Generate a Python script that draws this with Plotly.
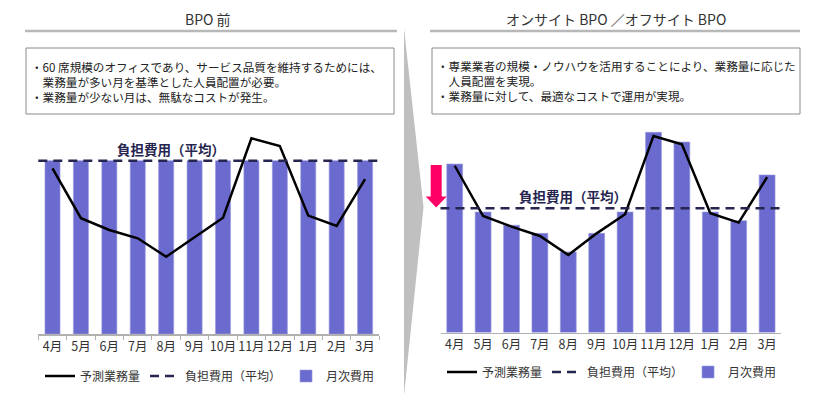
import plotly.graph_objects as go

# ---------------- data ----------------
months = ["4月", "5月", "6月", "7月", "8月", "9月", "10月", "11月", "12月", "1月", "2月", "3月"]

# 予測業務量 (forecast workload)
forecast_before = [95.6, 66.8, 60.0, 55.2, 44.6, 55.8, 67.1, 112.9, 108.5, 68.3, 62.3, 89.3]
forecast_after = [96.2, 67.2, 61.1, 55.7, 44.7, 57.2, 68.2, 113.4, 108.6, 68.8, 63.4, 89.6]

# 月次費用 (monthly cost)
cost_before = [100, 100, 100, 100, 100, 100, 100, 100, 100, 100, 100, 100]
cost_after = [97.2, 69.5, 61.9, 57.2, 46.5, 57.2, 69.5, 115.5, 109.9, 69.5, 64.5, 90.9]

# 負担費用（平均） (average cost burden)
avg_before = 100
avg_after = 71.7

titles = ["BPO 前", "オンサイト BPO ／オフサイト BPO"]
notes_before = [
    "・60 席規模のオフィスであり、サービス品質を維持するためには、",
    "\u3000業務量が多い月を基準とした人員配置が必要。",
    "・業務量が少ない月は、無駄なコストが発生。",
]
notes_after = [
    "・専業業者の規模・ノウハウを活用することにより、業務量に応じた",
    "\u3000人員配置を実現。",
    "・業務量に対して、最適なコストで運用が実現。",
]
name_line = "予測業務量"
name_avg = "負担費用（平均）"
name_bar = "月次費用"

# ---------------- styling ----------------
W, H = 820, 396
FONT = "Noto Sans CJK JP, Noto Sans CJK SC, sans-serif"
BAR = "#6b6bcf"
NAVY = "#25254f"
TXT = "#333333"
DASH = "9px,6px"


def px(x):
    return x / W


def py(y):
    return 1 - y / H


fig = go.Figure()

panels = [
    dict(xa="x", ya="y", fc=forecast_before, cost=cost_before, avg=avg_before,
         leg="legend", bw=0.53),
    dict(xa="x2", ya="y2", fc=forecast_after, cost=cost_after, avg=avg_after,
         leg="legend2", bw=0.56),
]

for p in panels:
    fig.add_trace(go.Scatter(
        x=months, y=p["fc"], xaxis=p["xa"], yaxis=p["ya"], mode="lines",
        line=dict(color="#000000", width=2.5), name=name_line, legend=p["leg"],
        hoverinfo="skip"))
    fig.add_trace(go.Scatter(
        x=[None], y=[None], xaxis=p["xa"], yaxis=p["ya"], mode="lines",
        line=dict(color=NAVY, width=2.5, dash=DASH), name=name_avg, legend=p["leg"],
        hoverinfo="skip"))
    fig.add_trace(go.Bar(
        x=months, y=p["cost"], xaxis=p["xa"], yaxis=p["ya"], width=p["bw"],
        marker=dict(color=BAR, line=dict(color="#9a9ae0", width=0.6)),
        name=name_bar, legend=p["leg"], hoverinfo="skip"))

shapes = []
annotations = []

# average (dashed) lines across full plot width
for p in panels:
    shapes.append(dict(type="line", xref=p["xa"] + " domain", x0=0, x1=1,
                       yref=p["ya"], y0=p["avg"], y1=p["avg"],
                       line=dict(color=NAVY, width=2.5, dash=DASH), layer="above"))
    annotations.append(dict(xref=p["xa"], yref=p["ya"], x=4, y=p["avg"],
                            text="<b>" + name_avg + "</b>", showarrow=False,
                            xanchor="center", yanchor="bottom", xshift=5, yshift=0,
                            font=dict(family=FONT, size=13.5, color=NAVY)))

# titles with underline
for t, cx, x0, x1 in [(titles[0], 207.5, 25, 397), (titles[1], 616, 430, 800)]:
    annotations.append(dict(xref="paper", yref="paper", x=px(cx), y=py(19), text=t,
                            showarrow=False, xanchor="center", yanchor="middle",
                            font=dict(family=FONT, size=14, color=TXT)))
    shapes.append(dict(type="line", xref="paper", yref="paper", x0=px(x0), x1=px(x1),
                       y0=py(31), y1=py(31), line=dict(color="#b8b8b8", width=2.5)))

# note boxes
for bx0, bx1 in [(26, 394), (432, 800)]:
    shapes.append(dict(type="rect", xref="paper", yref="paper", x0=px(bx0), x1=px(bx1),
                       y0=py(48), y1=py(114), line=dict(color="#8a8a8a", width=1),
                       fillcolor="rgba(0,0,0,0)"))

for lines, lx, ly in [(notes_before, 29, 82), (notes_after, 435, 80.5)]:
    annotations.append(dict(xref="paper", yref="paper", x=px(lx), y=py(ly),
                            text="<br>".join(lines), align="left",
                            showarrow=False, xanchor="left", yanchor="middle",
                            font=dict(family=FONT, size=11.6, color="#222222")))

# grey transition wedge between panels
shapes.append(dict(type="path", xref="paper", yref="paper",
                   path="M {:.5f},{:.5f} L {:.5f},{:.5f} L {:.5f},{:.5f} Z".format(
                       px(404), py(28), px(423.5), py(207), px(404), py(396)),
                   fillcolor="#c0c0c0", line=dict(width=0)))

# red down arrow (cost reduction)
arrow = [(430.7, 165), (441.7, 165), (441.7, 196.5), (446.7, 196.5), (436.2, 207.5),
         (425.7, 196.5), (430.7, 196.5)]
path = "M " + " L ".join("{:.5f},{:.5f}".format(px(a), py(b)) for a, b in arrow) + " Z"
shapes.append(dict(type="path", xref="paper", yref="paper", path=path,
                   fillcolor="#ff0066", line=dict(width=0)))

axis_common = dict(type="category", categoryorder="array", categoryarray=months,
                   range=[-0.5, 11.5], showgrid=False, zeroline=False, showline=True,
                   linecolor="#b0b0b0", linewidth=1.5, fixedrange=True, tickangle=0,
                   tickfont=dict(family=FONT, size=12.5, color=TXT))

fig.update_layout(
    width=W, height=H, margin=dict(l=0, r=0, t=0, b=0),
    paper_bgcolor="white", plot_bgcolor="white",
    font=dict(family=FONT, color=TXT),
    barmode="overlay",
    showlegend=True,
    hovermode=False,
    xaxis=dict(domain=[px(38.3), px(379.3)], anchor="y", ticks="outside",
               tickson="boundaries", ticklen=4, tickcolor="#b0b0b0", **axis_common),
    yaxis=dict(domain=[py(334), py(126)], range=[0, 120], visible=False, fixedrange=True),
    xaxis2=dict(domain=[px(440.5), px(781.3)], anchor="y2", ticks="", **axis_common),
    yaxis2=dict(domain=[py(332.5), py(124.5)], range=[0, 120], visible=False,
                fixedrange=True),
    legend=dict(orientation="h", x=px(40), y=py(376), xanchor="left", yanchor="middle",
                font=dict(family=FONT, size=12, color=TXT), bgcolor="rgba(0,0,0,0)",
                traceorder="normal"),
    legend2=dict(orientation="h", x=px(442), y=py(372), xanchor="left", yanchor="middle",
                 font=dict(family=FONT, size=12, color=TXT), bgcolor="rgba(0,0,0,0)",
                 traceorder="normal"),
    shapes=shapes,
    annotations=annotations,
)

fig.write_html("out.html",
               config={"displayModeBar": False, "staticPlot": True},
               post_script="document.body.style.margin='0';"
                           "document.body.style.overflow='hidden';")
